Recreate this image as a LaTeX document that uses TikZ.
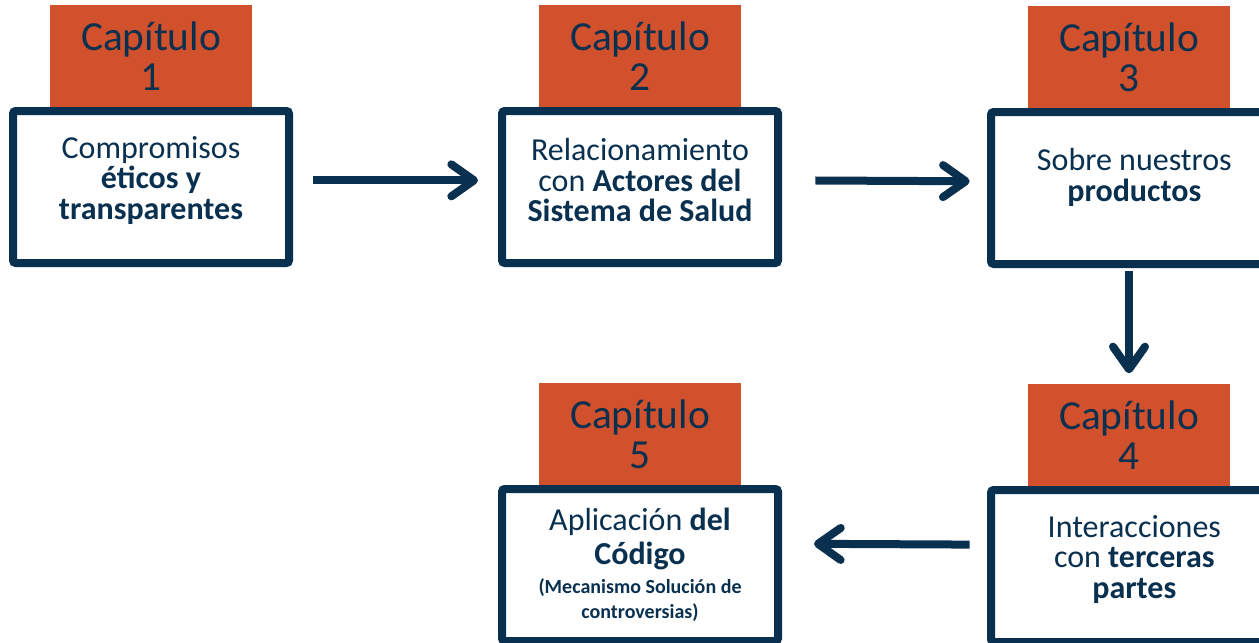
\documentclass[tikz,border=0pt]{standalone}
\usepackage{fontspec}
\setmainfont{Carlito}
\usetikzlibrary{positioning,arrows.meta}
\definecolor{navy}{RGB}{10,48,80}
\definecolor{rust}{RGB}{208,81,44}
\tikzset{
  chapbox/.style={draw=navy,line width=6pt,rounded corners=2pt,fill=white,
    minimum width=207pt,minimum height=114pt},
  chaptab/.style={fill=rust,text=navy,minimum width=151.5pt,minimum height=76.5pt,
    outer sep=0pt,inner sep=0pt,align=center,font=\fontsize{31}{30}\selectfont},
  chaptxt/.style={text=navy,align=center,inner sep=0pt,font=\fontsize{24}{23}\selectfont},
  flow/.style={draw=navy,line width=6pt,-{Straight Barb[length=17pt,width=24pt,round]}}
}
\begin{document}
\begin{tikzpicture}[x=0.75pt,y=-0.75pt]
        \clip (0,0) rectangle (1259,642);
        %% boxes
        \node[chapbox] (b1) at (151,187) {};
        \node[chapbox] (b2) at (640,187) {};
        \node[chapbox] (b3) at (1129,188) {};
        \node[chapbox] (b4) at (1129,566) {};
        \node[chapbox] (b5) at (640,565) {};
        %% tabs
        \node[chaptab,above=0pt of b1] (c1) {Capítulo\\1};
        \node[chaptab,above=0pt of b2] (c2) {Capítulo\\2};
        \node[chaptab,above=0pt of b3] (c3) {Capítulo\\3};
        \node[chaptab,above=0pt of b4] (c4) {Capítulo\\4};
        \node[chaptab,above=0pt of b5] (c5) {Capítulo\\5};
        %% texts
        \node[chaptxt] (t1) at ([yshift=5pt]b1.center) {Compromisos\\\textbf{éticos y}\\\textbf{transparentes}};
        \node[chaptxt] (t2) at ([yshift=5pt]b2.center) {Relacionamiento\\con \textbf{Actores del}\\\textbf{Sistema de Salud}};
        \node[chaptxt] (t3) at ([xshift=4pt,yshift=8pt]b3.center) {Sobre nuestros\\\textbf{productos}};
        \node[chaptxt] (t4) at ([xshift=4pt,yshift=5pt]b4.center) {Interacciones\\con \textbf{terceras}\\\textbf{partes}};
        \node[chaptxt] (t5) at (b5.center) {Aplicación \textbf{del}\\[2pt]\textbf{Código}\\[-1pt]%
          {\fontsize{15}{19}\selectfont\bfseries(Mecanismo Solución de}\\[-4pt]%
          {\fontsize{15}{19}\selectfont\bfseries controversias)}};
        %% arrows
        \draw[flow,shorten <=15pt,shorten >=15pt] ([yshift=5pt]b1.east) -- ([yshift=5pt]b2.west);
        \draw[flow,shorten <=25pt,shorten >=13pt] ([yshift=5pt]b2.east) -- ([yshift=5pt]b3.west);
        \draw[flow,shorten <=2pt,shorten >=8pt] (b3.south) -- (c4.north);
        \draw[flow,shorten <=13pt,shorten >=24pt] ([yshift=16pt]b4.west) -- ([yshift=16pt]b5.east);
\end{tikzpicture}
\end{document}
